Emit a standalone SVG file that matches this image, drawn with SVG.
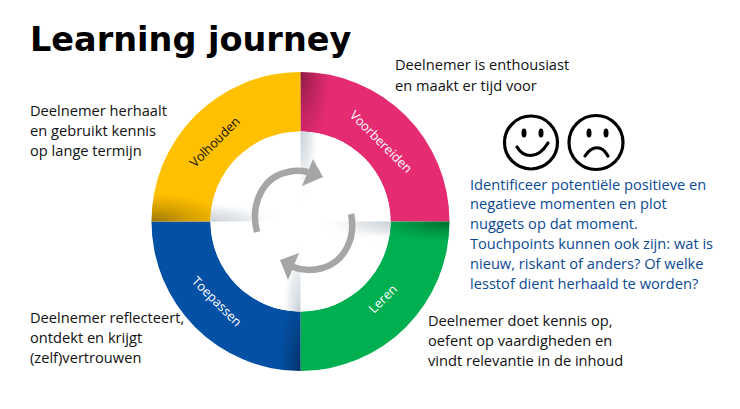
<svg xmlns="http://www.w3.org/2000/svg" width="740" height="409" viewBox="0 0 740 409">
<style>
.t{font-family:"Open Sans","Noto Sans",sans-serif;font-size:14.65px;fill:#111}
.b{font-family:"Open Sans","Noto Sans",sans-serif;font-size:14.65px;fill:#0b4a94}
.s{font-family:"Open Sans","Noto Sans",sans-serif;font-size:12.8px}
.face{fill:none;stroke:#000;stroke-width:3.2;stroke-linecap:round}
.arrow{fill:none;stroke:#a6a6a6;stroke-width:6.5}
</style>
<defs>
<radialGradient id="dark"><stop offset="0" stop-color="#000" stop-opacity=".38"/><stop offset=".5" stop-color="#000" stop-opacity=".16"/><stop offset="1" stop-color="#000" stop-opacity="0"/></radialGradient>
<radialGradient id="pale"><stop offset="0" stop-color="#c6ced6" stop-opacity="1"/><stop offset=".55" stop-color="#dfe4e8" stop-opacity=".7"/><stop offset="1" stop-color="#fff" stop-opacity="0"/></radialGradient>
<clipPath id="ring"><path clip-rule="evenodd" d="M151.500 221.500a149 149.500 0 1 0 298 0a149 149.500 0 1 0-298 0zM210.500 221.500a90 90 0 1 0 180 0a90 90 0 1 0-180 0z"/></clipPath>
<clipPath id="inner"><circle cx="300.500" cy="221.500" r="90"/></clipPath>
<clipPath id="q1"><rect x="300.500" y="60" width="160" height="161.500"/></clipPath>
<clipPath id="q2"><rect x="300.500" y="221.500" width="160" height="160"/></clipPath>
<clipPath id="q3"><rect x="140" y="221.500" width="160.500" height="160"/></clipPath>
<clipPath id="q4"><rect x="140" y="60" width="160.500" height="161.500"/></clipPath>
</defs>
<rect width="740" height="409" fill="#fff"/>
<text x="30" y="51" font-family="'DejaVu Sans',sans-serif" font-weight="700" font-size="33.500" fill="#000">Learning journey</text>

<g id="wheel">
<g clip-path="url(#ring)">
<rect x="300.500" y="71" width="150" height="150.500" fill="#e52b72"/>
<rect x="300.500" y="221.500" width="150" height="151" fill="#00b050"/>
<rect x="150" y="221.500" width="150.500" height="151" fill="#0450a5"/>
<rect x="150" y="71" width="150.500" height="150.500" fill="#ffc000"/>
<ellipse cx="300.500" cy="72" rx="30" ry="80" fill="url(#dark)" clip-path="url(#q1)"/>
<ellipse cx="449.500" cy="221.500" rx="80" ry="20" fill="url(#dark)" clip-path="url(#q2)"/>
<ellipse cx="300.500" cy="371" rx="22" ry="80" fill="url(#dark)" clip-path="url(#q3)"/>
<ellipse cx="151.500" cy="221.500" rx="80" ry="28" fill="url(#dark)" clip-path="url(#q4)"/>
</g>
<g clip-path="url(#inner)">
<rect x="210" y="131" width="181" height="181" fill="#fff"/>
<ellipse cx="300.500" cy="131.500" rx="20" ry="70" fill="url(#pale)" clip-path="url(#q1)"/>
<ellipse cx="390.500" cy="221.500" rx="70" ry="20" fill="url(#pale)" clip-path="url(#q2)"/>
<ellipse cx="300.500" cy="311.500" rx="20" ry="70" fill="url(#pale)" clip-path="url(#q3)"/>
<ellipse cx="210.500" cy="221.500" rx="70" ry="20" fill="url(#pale)" clip-path="url(#q4)"/>
</g>
</g>

<g id="voorbereiden"><text class="s" fill="#fff" transform="translate(349,116) rotate(45)">Voorbereiden</text></g>
<g id="leren"><text class="s" fill="#fff" transform="translate(374,314) rotate(-45)">Leren</text></g>
<g id="toepassen"><text class="s" fill="#fff" transform="translate(191,282) rotate(45)">Toepassen</text></g>
<g id="volhouden"><text class="s" fill="#111" transform="translate(195,168) rotate(-45)">Volhouden</text></g>

<g id="connectors">
<path class="arrow" d="M257 232C250 205 262 177 288 172C294 170.500 301 170.500 308 172"/>
<path d="M313 159L323 177L302 186Z" fill="#a6a6a6"/>
<path class="arrow" d="M351 214C356 238 345 261 323 268C312 271 303 271 293 267"/>
<path d="M280 260L288 280L299 253Z" fill="#a6a6a6"/>
</g>

<g id="note-voorbereiden"><text class="t" x="395" y="70">Deelnemer is enthousiast</text><text class="t" x="395" y="91">en maakt er tijd voor</text></g>
<g id="note-volhouden"><text class="t" x="30" y="116">Deelnemer herhaalt</text><text class="t" x="30" y="136">en gebruikt kennis</text><text class="t" x="30" y="156">op lange termijn</text></g>
<g id="note-toepassen"><text class="t" x="30" y="323">Deelnemer reflecteert,</text><text class="t" x="30" y="343">ontdekt en krijgt</text><text class="t" x="30" y="363">(zelf)vertrouwen</text></g>
<g id="note-leren"><text class="t" x="428" y="326">Deelnemer doet kennis op,</text><text class="t" x="428" y="346">oefent op vaardigheden en</text><text class="t" x="428" y="366">vindt relevantie in de inhoud</text></g>

<g id="smiley">
<circle class="face" cx="531" cy="142.500" r="26.500"/>
<ellipse cx="524" cy="133" rx="2.500" ry="4.500"/><ellipse cx="541" cy="133" rx="2.500" ry="4.500"/>
<path class="face" d="M517 147C523 157 537 161 548 143"/>
</g>
<g id="frowny">
<circle class="face" cx="596" cy="142.500" r="27"/>
<ellipse cx="589" cy="133" rx="2.500" ry="4.500"/><ellipse cx="606" cy="133" rx="2.500" ry="4.500"/>
<path class="face" d="M585 156C592 145 602 145 608 156"/>
</g>

<g id="note-blue">
<text class="b" x="470" y="190">Identificeer potentiële positieve en</text>
<text class="b" x="470" y="209">negatieve momenten en plot</text>
<text class="b" x="470" y="229">nuggets op dat moment.</text>
<text class="b" x="470" y="249">Touchpoints kunnen ook zijn: wat is</text>
<text class="b" x="470" y="269">nieuw, riskant of anders? Of welke</text>
<text class="b" x="470" y="289">lesstof dient herhaald te worden?</text>
</g>
</svg>
